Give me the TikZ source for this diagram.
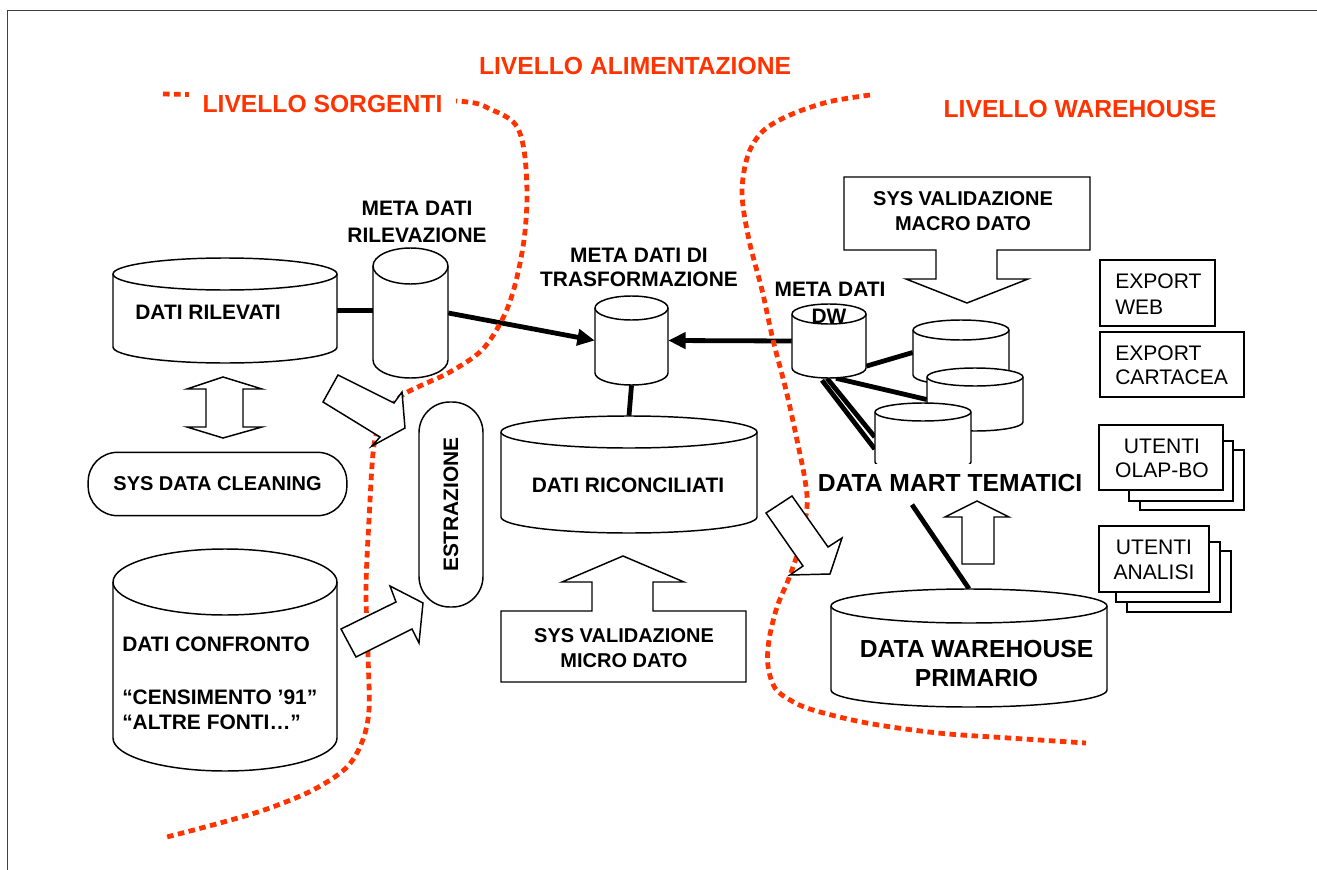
\documentclass[tikz,border=0pt]{standalone}
\usepackage{fontspec}
\setmainfont{Liberation Sans}
\usetikzlibrary{arrows.meta,calc,fit}
\definecolor{livred}{RGB}{255,51,0}

\pgfdeclarelayer{lines}
\pgfdeclarelayer{bound}
\pgfsetlayers{lines,bound,main}

\tikzset{
  cylline/.style={draw=black, fill=white, line width=1.1pt},
  outline/.style={draw=black, fill=white, line width=1.1pt, line join=miter},
  conn/.style={line width=3.6pt},
  bigtip/.style={-{Triangle[length=13pt,width=12pt]}},
  lbl/.style={font=\bfseries\fontsize{15.7}{18.75}\selectfont, align=center, inner sep=0pt},
  syslbl/.style={font=\bfseries\fontsize{15}{18.75}\selectfont, align=center, inner sep=0pt},
  biglbl/.style={font=\bfseries\fontsize{18.5}{21.75}\selectfont, align=center, inner sep=0pt},
  plainlbl/.style={font=\fontsize{15.8}{19.5}\selectfont, align=left, inner sep=0pt},
  zonelbl/.style={text=livred, font=\bfseries\fontsize{18.5}{22}\selectfont, inner sep=0pt},
  boundary/.style={draw=livred, line width=3.6pt, dash pattern=on 4.9pt off 3.4pt},
  stadium/.style={draw=black, fill=white, line width=1.1pt, inner sep=0pt},
}

% database cylinder: name, left x, right x, top ellipse centre y, bottom ellipse centre y, ellipse y radius
\newcommand{\dbcyl}[6]{%
  \pgfmathsetmacro{\cylrx}{(#3-#2)/2}%
  \filldraw[cylline] (#2,#4) -- (#2,#5)
    arc[start angle=180,end angle=0,x radius=\cylrx,y radius=#6] -- (#3,#4)
    arc[start angle=0,end angle=-180,x radius=\cylrx,y radius=#6] -- cycle;
  \draw[cylline,fill=none] (#2,#4) arc[start angle=180,end angle=0,x radius=\cylrx,y radius=#6];
  \node[fit={(#2,{#4-#6}) (#3,{#5+#6})},inner sep=0pt] (#1) {};
}

\begin{document}
\begin{tikzpicture}[x=0.75pt,y=-0.75pt]
\useasboundingbox (0,0) rectangle (1317,870);

% page frame
\draw[black!75,line width=1pt] (7.5,870) -- (7.5,10.5) -- (1317,10.5);

% data stores
\dbcyl{rilev}{113}{337}{274}{347}{16}
\dbcyl{metaril}{373}{448}{266}{360}{18}
\dbcyl{trasf}{595}{668}{308}{373}{12}
\dbcyl{dw}{792}{866}{314}{368}{10}
\dbcyl{martA}{913}{1009}{330}{375}{10}
\dbcyl{martB}{927}{1023}{377}{422}{9}
\dbcyl{martC}{875}{971}{412}{462}{9}
\dbcyl{riconc}{501}{757}{432}{517}{16}
\dbcyl{confr}{113}{337}{582}{738}{33}
\dbcyl{dwp}{831}{1107}{606}{690}{17}

% connectors
\begin{pgfonlayer}{lines}
  \draw[conn] (rilev.east) -- (rilev.east -| metaril.west);
  \draw[conn,bigtip] (metaril.east) -- (trasf.west);
  \draw[conn,bigtip] (dw.west) -- (trasf.east);
  \draw[conn] (trasf.south) -- (riconc.north);
  \draw[conn] (dw.-34) -- (martA.west);
  \draw[conn] ($(dw.south)+(7,0)$) -- (martB.west);
  \draw[conn] ($(dw.south)+(-2,0)$) -- (martC.west);
  \draw[conn] ($(dw.south)+(-7,2)$) -- ($(martC.west)+(0,12)$);
\end{pgfonlayer}

% level boundaries
\begin{pgfonlayer}{bound}
  \draw[boundary] plot[smooth,tension=0.55] coordinates {
    (163,94) (310,97) (457,101) (492,110) (515,124) (524,150) (527,195)
    (524,240) (515,285) (503,318) (482,350) (450,372) (420,386) (400,397)
    (384,418) (374,445) (369,520) (366,590) (368,655) (369,710) (362,742)
    (346,768) (313,790) (267,809) (220,823) (163,838)};
  \draw[boundary] plot[smooth,tension=0.55] coordinates {
    (870,95) (828,102) (790,115) (763,131) (748,155) (742,193) (749,240)
    (762,290) (773,340) (786,390) (797,440) (805,480) (807,507) (800,545)
    (789,578) (777,607) (769,640) (768,666) (775,688) (790,700) (813,710)
    (867,723) (938,733) (1009,738) (1086,743)};
\end{pgfonlayer}

% level titles
\node[zonelbl] (alim) at (635,66) {LIVELLO ALIMENTAZIONE};
\node[zonelbl,fill=white,inner xsep=10pt,inner ysep=3pt] (sorg) at (322.5,104) {LIVELLO SORGENTI};
\node[zonelbl] (wareh) at (1080,109) {LIVELLO WAREHOUSE};

% store labels
\node[lbl] (rilevlbl) at (208,312) {DATI RILEVATI};
\node[lbl] (metarillbl) at (417,221.5) {META DATI\\[1.5pt]RILEVAZIONE};
\node[lbl] (trasflbl) at (639,267) {META DATI DI\\[-0.75pt]TRASFORMAZIONE};
\node[lbl] (dwlbl) at (830,289) {META DATI};
\node[lbl] (dwname) at (829,316) {DW};
\node[lbl] (riconclbl) at (628,485) {DATI RICONCILIATI};
\node[lbl,align=left,anchor=west] (confrlbl) at (122,683)
  {DATI CONFRONTO\\[21pt]“CENSIMENTO ’91”\\“ALTRE FONTI…”};
\node[biglbl] (dwplbl) at (976.5,663.5) {DATA WAREHOUSE\\PRIMARIO};
\node[biglbl,fill=white,inner xsep=2pt,inner ysep=8pt] (martlbl) at (950,483) {DATA MART TEMATICI};
\begin{pgfonlayer}{lines}
  \draw[conn] ($(martlbl.south)+(-38,2)$) -- (dwp.north);
\end{pgfonlayer}

% processes
\node[stadium,syslbl,rounded corners=22pt,minimum width=194pt,minimum height=47.5pt] (clean)
  at (217.5,484) {SYS DATA CLEANING};
\node[stadium,lbl,rotate=90,rounded corners=23pt,minimum width=153.75pt,minimum height=48pt] (estr)
  at (451,504.5) {ESTRAZIONE};

% validation systems with their arrows
\filldraw[outline] (844,177) -- (1090,177) -- (1090,250) -- (997,250) -- (997,279) -- (1028,279)
  -- (967,303) -- (906,279) -- (936,279) -- (936,250) -- (844,250) -- cycle;
\node[syslbl] (macro) at (963,211.5) {SYS VALIDAZIONE\\MACRO DATO};
\filldraw[outline] (501,682) -- (746,682) -- (746,611) -- (653,611) -- (653,582) -- (684,582)
  -- (623,556) -- (562,582) -- (592,582) -- (592,611) -- (501,611) -- cycle;
\node[syslbl] (micro) at (624,648.5) {SYS VALIDAZIONE\\MICRO DATO};

% flow arrows
\filldraw[outline] (223,377) -- (262,389) -- (243,389) -- (243,427) -- (262,427) -- (223,438)
  -- (187,427) -- (206,427) -- (206,389) -- (187,389) -- cycle;
\filldraw[outline] (323,402) -- (338,375) -- (394,403) -- (402,392) -- (405,428) -- (372,446)
  -- (380,437) -- cycle;
\filldraw[outline] (341,629) -- (396,602) -- (390,586) -- (423,603) -- (419,643) -- (412,629)
  -- (356,657) -- cycle;
\filldraw[outline] (766,513) -- (792,496) -- (828,547) -- (842,538) -- (830,574) -- (790,575)
  -- (803,566) -- cycle;
\filldraw[outline] (962,564) -- (962,517) -- (945,517) -- (977,501) -- (1009,517) -- (994,517)
  -- (994,564) -- cycle;

% exports
\draw[outline] (1100,260) rectangle (1215,326);
\node[plainlbl,anchor=west] (exweb) at (1115,294) {EXPORT\\WEB};
\draw[outline] (1100,332) rectangle (1244,397);
\node[plainlbl,anchor=west] (excart) at (1115,365) {EXPORT\\[-1.5pt]CARTACEA};

% user groups
\draw[outline] (1140,450) rectangle (1244,510);
\draw[outline] (1129,441) rectangle (1233,501);
\draw[outline] (1099,425) rectangle (1223,490);
\node[plainlbl,align=center] (olap) at (1162,458) {UTENTI\\[-1.5pt]OLAP-BO};
\draw[outline] (1127,551) rectangle (1231,612);
\draw[outline] (1116,542) rectangle (1220,602);
\draw[outline] (1099,526) rectangle (1209,592);
\node[plainlbl,align=center] (analisi) at (1154,559.5) {UTENTI\\[-0.75pt]ANALISI};

\end{tikzpicture}
\end{document}
